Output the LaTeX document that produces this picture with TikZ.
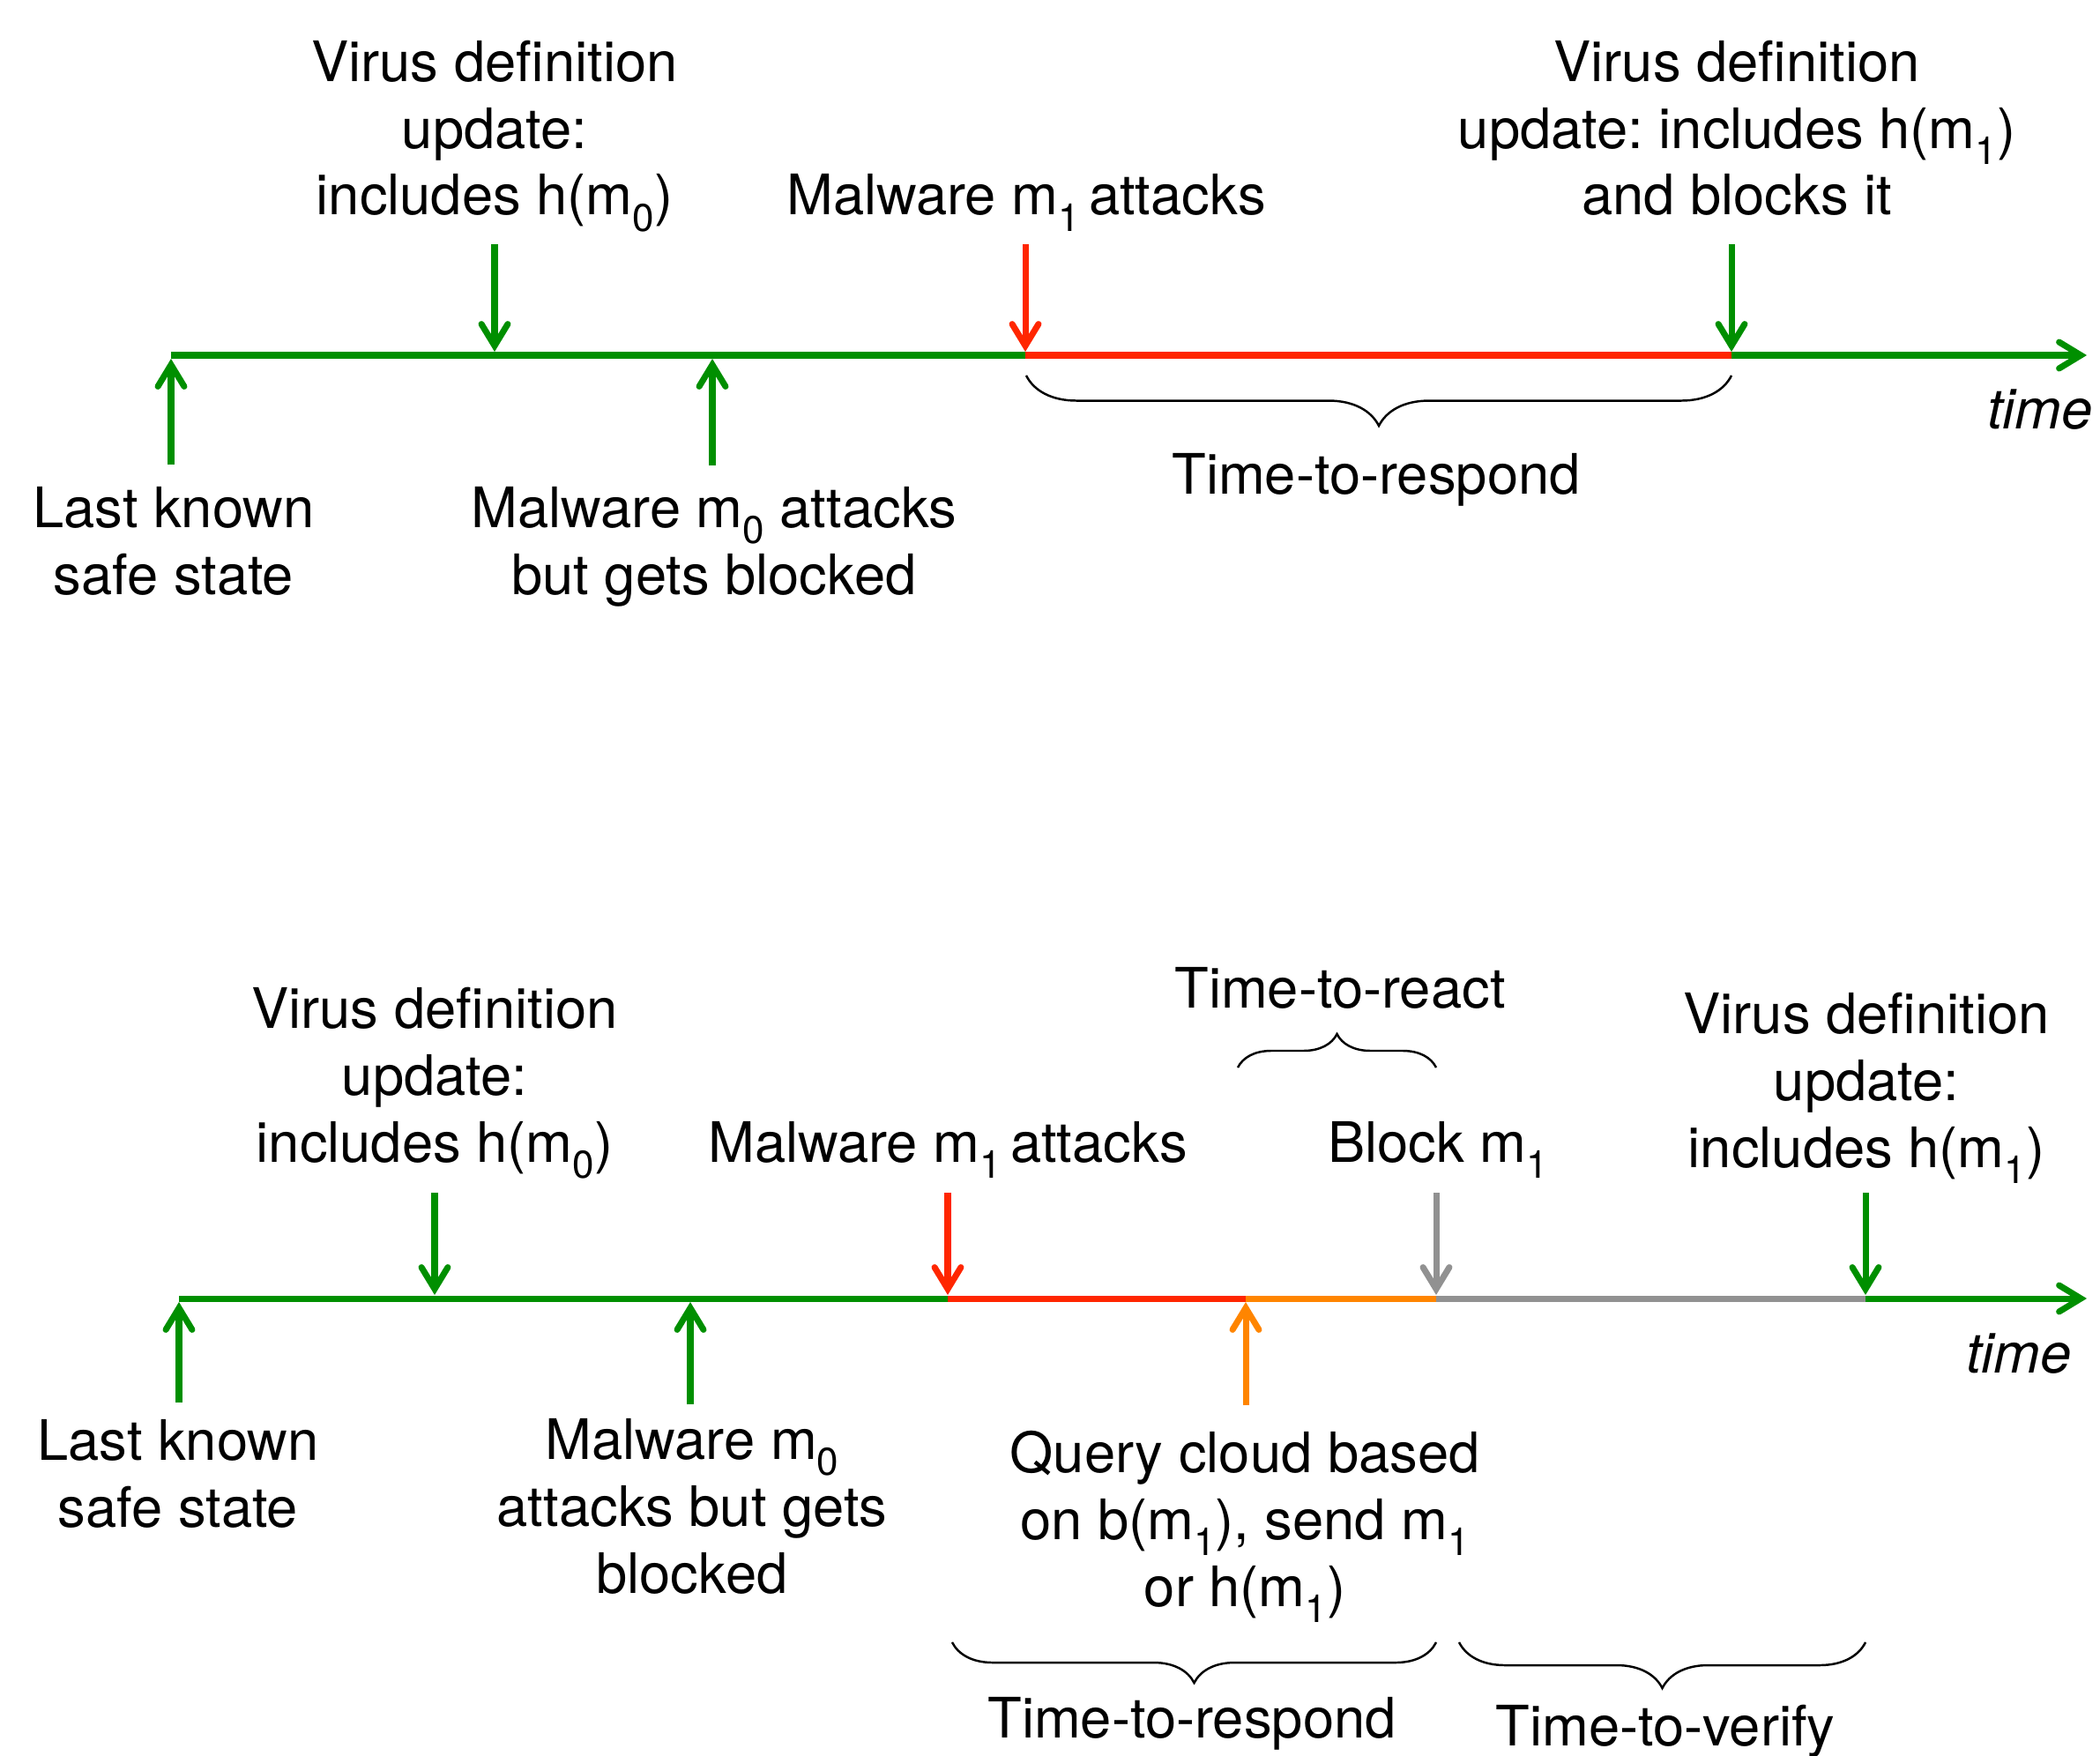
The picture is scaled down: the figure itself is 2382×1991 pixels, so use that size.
\documentclass[tikz,border=0pt]{standalone}
\usepackage{fontspec}
\setmainfont{TeX Gyre Heros}
\usetikzlibrary{arrows.meta,decorations.pathreplacing}
\definecolor{tgreen}{RGB}{0,143,0}
\definecolor{tred}{RGB}{255,38,0}
\definecolor{torange}{RGB}{255,133,0}
\definecolor{tgray}{RGB}{145,145,145}
\newcommand\mysub[1]{\raisebox{-0.55ex}{\fontsize{12.5pt}{12.5pt}\selectfont #1}}
\frenchspacing
\begin{document}
\begin{tikzpicture}[x=0.01cm,y=-0.01cm,
  lbl/.style={font=\fontsize{18pt}{21.6pt}\selectfont, align=center, inner sep=0pt, anchor=base},
  tline/.style={line width=2pt},
  evarrow/.style={line width=2pt, -{Straight Barb[length=7pt,width=8.5pt,line cap=round]}},
  bracedec/.style={decorate, decoration={brace, amplitude=#1}, line width=0.7pt},
]
\useasboundingbox (0,0) rectangle (2382,1991);

% ---------------- top timeline ----------------
\coordinate (p0) at (194,403);
\coordinate (p1) at (1163,403);
\coordinate (p2) at (1964,403);
\coordinate (pend) at (2367,403);
\draw[tline,tgreen] (p0) -- (p1);
\draw[tline,tred] (p1) -- (p2);
\draw[evarrow,tgreen] (p2) -- (pend);

\coordinate (a1s) at (194,527);  \coordinate (a1e) at (194,407);
\coordinate (a2s) at (561,277);  \coordinate (a2e) at (561,399);
\coordinate (a3s) at (808,528);  \coordinate (a3e) at (808,407);
\coordinate (a4s) at (1163,277); \coordinate (a4e) at (1163,399);
\coordinate (a5s) at (1964,277); \coordinate (a5e) at (1964,399);
\draw[evarrow,tgreen] (a1s) -- (a1e);
\draw[evarrow,tgreen] (a2s) -- (a2e);
\draw[evarrow,tgreen] (a3s) -- (a3e);
\draw[evarrow,tred] (a4s) -- (a4e);
\draw[evarrow,tgreen] (a5s) -- (a5e);

% base anchor of a multi-line node = baseline of its last line
\node[lbl] (vd1) at (561,244) {Virus definition\\update:\\includes h(m\mysub{0})};
\node[lbl] (m1a) at (1164,244) {Malware m\mysub{1}\,attacks};
\node[lbl] (vd2) at (1970,244) {Virus definition\\update: includes h(m\mysub{1})\\and blocks it};
\node[lbl] (lk1) at (197,674) {Last known\\safe state};
\node[lbl] (m0a) at (810,674) {Malware m\mysub{0} attacks\\but gets blocked};
\node[lbl] (ttr1) at (1561,560) {Time-to-respond};
\node[lbl] (time1) at (2314,486) {\itshape time};

\coordinate (br1a) at (1964,426);
\coordinate (br1b) at (1164,426);
\draw[bracedec=0.57cm] (br1a) -- (br1b);

% ---------------- bottom timeline ----------------
\coordinate (q0) at (203,1473);
\coordinate (q1) at (1075,1473);
\coordinate (q2) at (1413,1473);
\coordinate (q3) at (1629,1473);
\coordinate (q4) at (2116,1473);
\coordinate (qend) at (2367,1473);
\draw[tline,tgreen] (q0) -- (q1);
\draw[tline,tred] (q1) -- (q2);
\draw[tline,torange] (q2) -- (q3);
\draw[tline,tgray] (q3) -- (q4);
\draw[evarrow,tgreen] (q4) -- (qend);

\coordinate (b1s) at (203,1591);  \coordinate (b1e) at (203,1477);
\coordinate (b2s) at (493,1353);  \coordinate (b2e) at (493,1469);
\coordinate (b3s) at (783,1593);  \coordinate (b3e) at (783,1477);
\coordinate (b4s) at (1075,1353); \coordinate (b4e) at (1075,1469);
\coordinate (b5s) at (1413,1594); \coordinate (b5e) at (1413,1477);
\coordinate (b6s) at (1629,1353); \coordinate (b6e) at (1629,1469);
\coordinate (b7s) at (2116,1353); \coordinate (b7e) at (2116,1469);
\draw[evarrow,tgreen] (b1s) -- (b1e);
\draw[evarrow,tgreen] (b2s) -- (b2e);
\draw[evarrow,tgreen] (b3s) -- (b3e);
\draw[evarrow,tred] (b4s) -- (b4e);
\draw[evarrow,torange] (b5s) -- (b5e);
\draw[evarrow,tgray] (b6s) -- (b6e);
\draw[evarrow,tgreen] (b7s) -- (b7e);

\node[lbl] (vd3) at (493,1318) {Virus definition\\update:\\includes h(m\mysub{0})};
\node[lbl] (m1b) at (1075,1318) {Malware m\mysub{1}\,attacks};
\node[lbl] (blk) at (1631,1318) {Block m\mysub{1}};
\node[lbl] (vd4) at (2117,1324) {Virus definition\\update:\\includes h(m\mysub{1})};
\node[lbl] (lk2) at (202,1732) {Last known\\safe state};
\node[lbl] (m0b) at (785,1807) {Malware m\mysub{0}\\attacks but gets\\blocked};
\node[lbl] (qc) at (1412,1822) {Query cloud based\\on b(m\mysub{1}), send m\mysub{1}\\or h(m\mysub{1})};
\node[lbl] (react) at (1520,1143) {Time-to-react};
\node[lbl] (ttr2) at (1352,1971) {Time-to-respond};
\node[lbl] (ttv) at (1889,1980) {Time-to-verify};
\node[lbl] (time2) at (2290,1557) {\itshape time};

\coordinate (br2a) at (1404,1211);
\coordinate (br2b) at (1629,1211);
\draw[bracedec=0.38cm] (br2a) -- (br2b);
\coordinate (br3a) at (1629,1863);
\coordinate (br3b) at (1080,1863);
\draw[bracedec=0.46cm] (br3a) -- (br3b);
\coordinate (br4a) at (2116,1863);
\coordinate (br4b) at (1655,1863);
\draw[bracedec=0.52cm] (br4a) -- (br4b);
\end{tikzpicture}
\end{document}
